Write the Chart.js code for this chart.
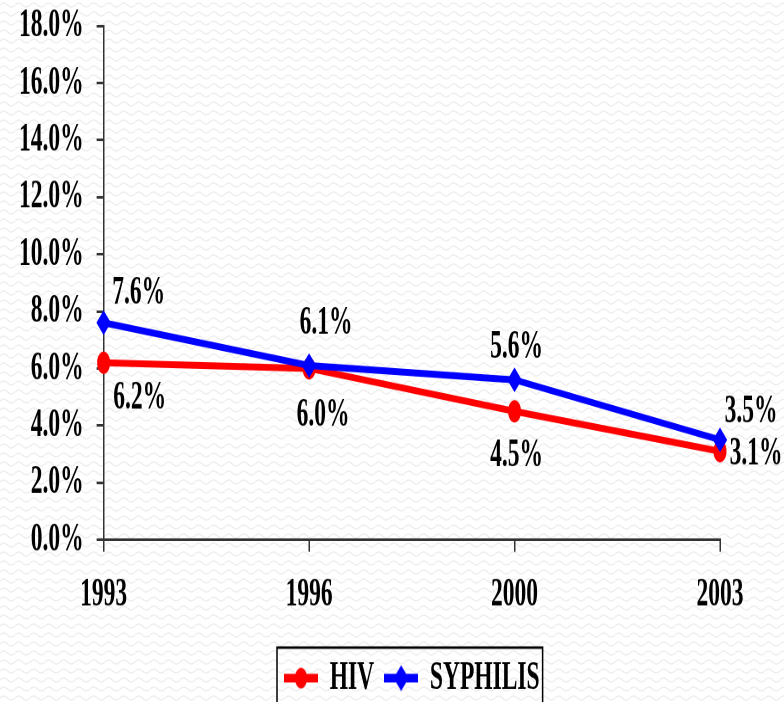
<!DOCTYPE html>
<html>
<head>
<meta charset="utf-8">
<script src="https://cdn.jsdelivr.net/npm/chart.js@4.4.0/dist/chart.umd.min.js"></script>
<style>
  html, body {
    margin: 0;
    padding: 0;
    width: 784px;
    height: 702px;
    overflow: hidden;
  }
  body {
    background-color: #fff;
    background-image: url("data:image/svg+xml;utf8,<svg xmlns='http://www.w3.org/2000/svg' width='15' height='9'><path d='M0 5 Q3.75 1 7.5 5 T15 5' fill='none' stroke='%23efefef' stroke-width='1.5'/></svg>");
  }
  /* the original picture is squeezed sideways, so draw short and stretch it */
  #wrap {
    width: 784px;
    transform: scaleY(1.72);
    transform-origin: 0 0;
  }
</style>
</head>
<body>
<div id="wrap"><canvas id="chart" width="784" height="416"></canvas></div>
<script>
const years = ['1993', '1996', '2000', '2003'];
const hivRates = [6.2, 6.0, 4.5, 3.1];
const syphilisRates = [7.6, 6.1, 5.6, 3.5];
const yTicks = [0, 2, 4, 6, 8, 10, 12, 14, 16, 18];

const FONT = {family: "'Liberation Serif', 'Times New Roman', serif", weight: 'bold', size: 23.5};
const RED = '#ff0000';
const BLUE = '#0000ff';

// Where each value label sits relative to its point, per series
const labelOffsets = [
  [[36, 20.3], [14, 27.3], [2, 25.9], [36, 1.5]],
  [[35, -17.3], [17, -24.4], [2, -18.9], [31, -16.3]],
];

// Legend icons are a short line with the marker on it
function makeIcon(color, shape) {
  const c = document.createElement('canvas');
  c.width = 68;
  c.height = 32;
  const ctx = c.getContext('2d');
  ctx.scale(2, 2);
  ctx.strokeStyle = color;
  ctx.fillStyle = color;
  ctx.lineWidth = 5;
  ctx.beginPath();
  ctx.moveTo(0, 8);
  ctx.lineTo(34, 8);
  ctx.stroke();
  ctx.beginPath();
  if (shape === 'circle') {
    ctx.arc(17, 8, 6, 0, Math.PI * 2);
  } else {
    ctx.moveTo(17, 0.5);
    ctx.lineTo(24.5, 8);
    ctx.lineTo(17, 15.5);
    ctx.lineTo(9.5, 8);
    ctx.closePath();
  }
  ctx.fill();
  const img = new Image(34, 16);
  const loaded = new Promise(resolve => { img.onload = resolve; });
  img.src = c.toDataURL();
  return [img, loaded];
}

const valueLabels = {
  id: 'valueLabels',
  afterDatasetsDraw(chart, args, opts) {
    const ctx = chart.ctx;
    ctx.save();
    ctx.font = `${FONT.weight} ${FONT.size}px ${FONT.family}`;
    ctx.fillStyle = '#000';
    ctx.textAlign = 'center';
    ctx.textBaseline = 'middle';
    chart.data.datasets.forEach((ds, i) => {
      const meta = chart.getDatasetMeta(i);
      meta.data.forEach((pt, j) => {
        const [dx, dy] = opts.offsets[i][j];
        ctx.fillText(ds.data[j].toFixed(1) + '%', pt.x + dx, pt.y + dy);
      });
    });
    ctx.restore();
  }
};

// Black frame round the legend, running off the bottom like the original
const legendFrame = {
  id: 'legendFrame',
  afterDraw(chart) {
    const boxes = chart.legend.legendHitBoxes;
    if (!boxes || !boxes.length) { return; }
    const first = boxes[0];
    const last = boxes[boxes.length - 1];
    const left = first.left - 7;
    const right = last.left + last.width + 3;
    const top = chart.legend.top + 4;
    const ctx = chart.ctx;
    ctx.save();
    ctx.strokeStyle = '#000';
    ctx.lineWidth = 1.5;
    ctx.strokeRect(left, top, right - left, chart.height - top + 10);
    ctx.restore();
  }
};

const icons = [makeIcon(RED, 'circle'), makeIcon(BLUE, 'diamond')];

Promise.all(icons.map(i => i[1])).then(() => {
  new Chart(document.getElementById('chart'), {
    type: 'line',
    plugins: [valueLabels, legendFrame],
    data: {
      labels: years,
      datasets: [
        {
          label: 'HIV',
          data: hivRates,
          borderColor: RED,
          backgroundColor: RED,
          borderWidth: 4,
          pointStyle: 'circle',
          pointRadius: 6,
          pointBorderWidth: 1,
          order: 1,
          clip: false,
        },
        {
          label: 'SYPHILIS',
          data: syphilisRates,
          borderColor: BLUE,
          backgroundColor: BLUE,
          borderWidth: 4,
          pointStyle: 'rectRot',
          pointRadius: 6.5,
          pointBorderWidth: 1,
          order: 0,
          clip: false,
        }
      ]
    },
    options: {
      responsive: false,
      animation: false,
      devicePixelRatio: 2,
      layout: {
        padding: {left: 6, right: 64, top: 15, bottom: 0}
      },
      plugins: {
        tooltip: {enabled: false},
        valueLabels: {offsets: labelOffsets},
        legend: {
          position: 'bottom',
          fullSize: false,
          labels: {
            usePointStyle: true,
            pointStyleWidth: 34,
            boxHeight: 16,
            padding: 10,
            color: '#000',
            font: FONT,
            sort: (a, b) => a.datasetIndex - b.datasetIndex,
            generateLabels(chart) {
              const items = Chart.defaults.plugins.legend.labels.generateLabels(chart);
              for (const item of items) {
                item.pointStyle = icons[item.datasetIndex][0];
              }
              return items;
            }
          }
        }
      },
      scales: {
        x: {
          offset: false,
          border: {display: true, color: '#333', width: 1.5},
          grid: {drawOnChartArea: false, drawTicks: true, tickLength: 7, color: '#333', lineWidth: 1.5},
          ticks: {color: '#000', font: FONT, padding: 11, maxRotation: 0, autoSkip: false},
          afterFit(scale) {
            scale.height += 1.5;
          }
        },
        y: {
          min: yTicks[0],
          max: yTicks[yTicks.length - 1],
          afterBuildTicks(scale) {
            scale.ticks = yTicks.map(v => ({value: v}));
          },
          // let the top label overhang, the layout padding handles it
          afterFit(scale) {
            scale.paddingTop = 0;
          },
          border: {display: true, color: '#333', width: 1.5},
          grid: {drawOnChartArea: false, drawTicks: true, tickLength: 7, color: '#333', lineWidth: 1.5},
          ticks: {
            color: '#000',
            font: FONT,
            padding: 13,
            autoSkip: false,
            callback: v => v.toFixed(1) + '%'
          }
        }
      }
    }
  });
});
</script>
</body>
</html>
